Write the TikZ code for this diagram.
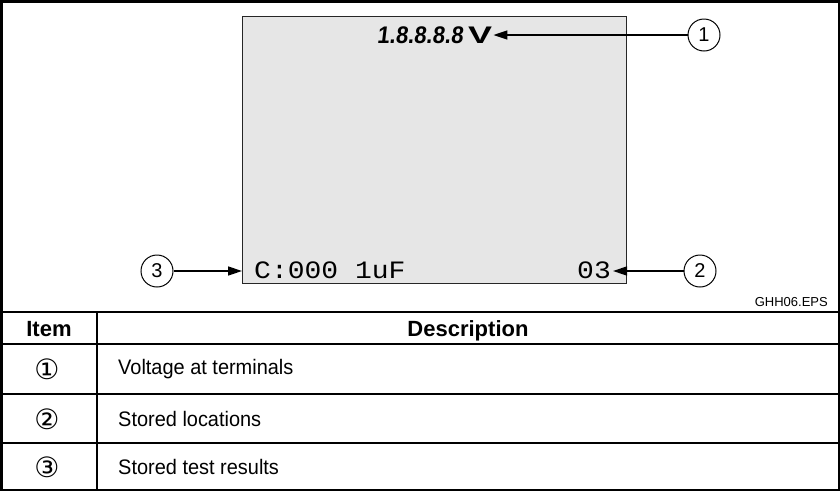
\documentclass[tikz,border=0pt]{standalone}
\usepackage{fontspec}
\usetikzlibrary{arrows.meta}
\setmainfont{Liberation Sans}
\newfontfamily\segbold{Liberation Sans}[FakeSlant=0.12,FakeStretch=0.92]
\newfontfamily\vfont{Liberation Sans}[FakeStretch=1.5]
\newfontfamily\segthin{Liberation Mono}[FakeStretch=1.12]
\newfontfamily\rowfont{Liberation Sans}[FakeStretch=0.95]
\newfontfamily\circfont{DejaVu Sans}
\definecolor{lcdgray}{HTML}{E6E6E6}
\tikzset{
  callout/.style={circle, draw, line width=1pt, minimum size=32pt, inner sep=0pt, font=\fontsize{20}{20}\selectfont},
  pointer/.style={line width=1.5pt, -{Triangle[length=14pt,width=9pt]}},
  frameline/.style={line width=2.5pt},
  rowline/.style={line width=2pt},
  seg/.style={inner sep=0pt, font=\segbold\bfseries\fontsize{24}{24}\selectfont},
  vstyle/.style={inner sep=0pt, font=\vfont\bfseries\fontsize{24}{24}\selectfont},
  segt/.style={inner sep=0pt, font=\segthin\fontsize{25}{25}\selectfont},
  hdr/.style={font=\bfseries\fontsize{22}{22}\selectfont, anchor=base, inner sep=0pt},
  cell/.style={font=\rowfont\fontsize{21}{21}\selectfont, anchor=west, inner sep=0pt},
  num/.style={font=\circfont\fontsize{28}{28}\selectfont, inner sep=0pt}
}
\begin{document}
\begin{tikzpicture}[x=1pt,y=-1pt]
\useasboundingbox (0,0) rectangle (840,491);
% outer frame
\draw[frameline] (1.25,1.25) rectangle (838.75,489.75);
% LCD
\node (lcd) [draw=black!85, line width=1pt, fill=lcdgray, minimum width=384pt, minimum height=267pt, anchor=north west, inner sep=0pt] at (242,16) {};
\node (dig) [seg, anchor=east] at (463,35) {1.8.8.8.8};
\node (volt) [vstyle, anchor=west] at (468,35) {V};
\node (cap) [segt, anchor=west] at (254,270) {C:000 1uF};
\node (loc) [segt, anchor=east] at (611,270) {03};
% callouts
\node (c1) [callout] at (704,35) {1};
\node (c2) [callout] at (700,271) {2};
\node (c3) [callout] at (157,271) {3};
\draw[pointer] (c1) -- ([xshift=1pt]c1 -| volt.east);
\draw[pointer] (c2) -- ([xshift=2pt]c2 -| loc.east);
\draw[pointer] (c3) -- (c3 -| lcd.west);
\node (eps) [anchor=east, inner sep=0pt, font=\fontsize{13}{13}\selectfont] at (828,302) {GHH06.EPS};
% table
\draw[frameline] (0,312) -- (840,312);
\draw[frameline] (0,344) -- (840,344);
\draw[rowline] (0,394) -- (840,394);
\draw[rowline] (0,443) -- (840,443);
\draw[rowline] (97,312) -- (97,490);
\node (hitem) [hdr] at (49,336) {Item};
\node (hdesc) [hdr] at (468,336) {Description};
\node (n1) [num] at (47,369) {①};
\node (n2) [num] at (47,419) {②};
\node (n3) [num] at (47,467) {③};
\node (t1) [cell] at (118,369) {Voltage at terminals};
\node (t2) [cell] at (118,419) {Stored locations};
\node (t3) [cell] at (118,467) {Stored test results};
\end{tikzpicture}
\end{document}
